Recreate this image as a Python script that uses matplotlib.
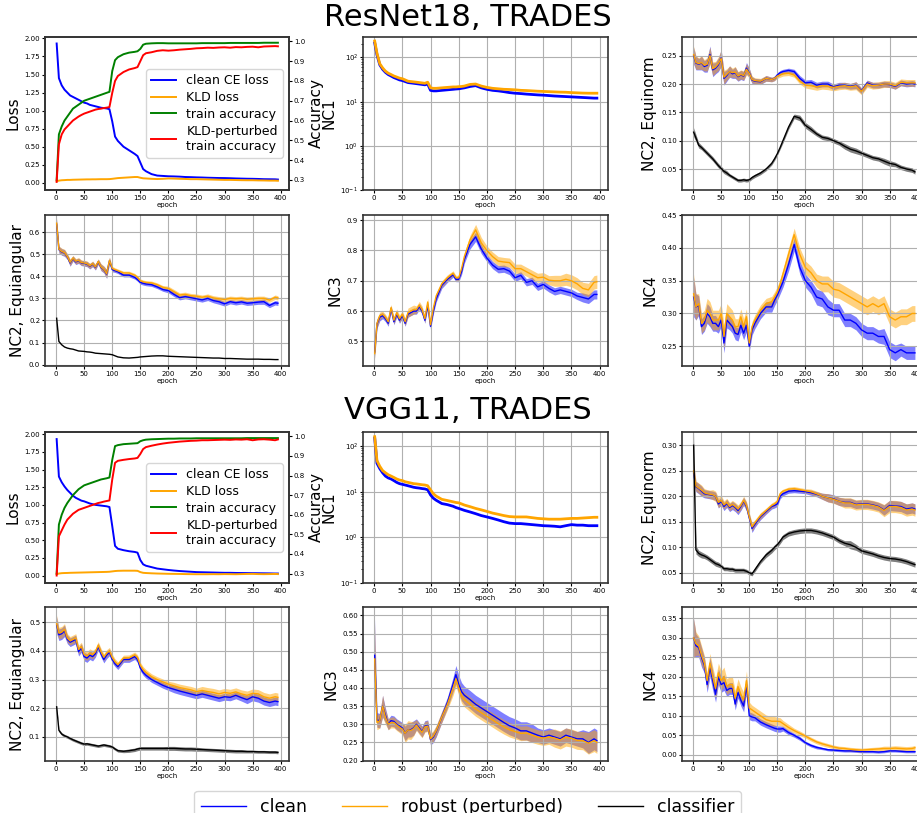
import numpy as np
import matplotlib
matplotlib.use('Agg')
import matplotlib.pyplot as plt
from matplotlib.lines import Line2D
from matplotlib.ticker import MultipleLocator

# epochs at which the curves were logged
epochs = [1, 5, 10, 15, 20, 25, 30, 35, 40, 45, 50, 55, 60, 65, 70, 75, 80, 85, 90, 95, 100, 105,
          110, 120, 130, 140, 145, 150, 155,
          160, 170, 180, 190, 200, 210, 220, 230, 240, 250, 260, 270, 280, 290, 300, 310, 320,
          330, 340, 350, 360, 370, 380, 390, 395]

# ---------------- ResNet18, TRADES ----------------
resnet_loss_clean = [1.93, 1.45, 1.35, 1.29, 1.25, 1.21, 1.19, 1.17, 1.15, 1.13, 1.11, 1.10, 1.08, 1.07, 1.06, 1.05, 1.04, 1.035, 1.03, 1.02, 0.85, 0.64,
                     0.58, 0.50, 0.45, 0.40, 0.37, 0.28, 0.19,
                     0.16, 0.12, 0.10, 0.095, 0.09, 0.088, 0.085, 0.08, 0.078, 0.075, 0.073, 0.07, 0.068, 0.066, 0.065, 0.063, 0.06, 0.058, 0.056, 0.055, 0.053, 0.05, 0.049, 0.048, 0.045]
resnet_loss_kld = [0.02, 0.03, 0.035, 0.037, 0.04, 0.04, 0.042, 0.043, 0.044, 0.045, 0.046, 0.047, 0.047, 0.048, 0.048, 0.049, 0.05, 0.05, 0.05, 0.051, 0.055, 0.06,
                   0.065, 0.07, 0.075, 0.08, 0.08, 0.07, 0.062,
                   0.06, 0.055, 0.052, 0.055, 0.06, 0.058, 0.055, 0.053, 0.05, 0.05, 0.048, 0.046, 0.044, 0.042, 0.04, 0.04, 0.038, 0.036, 0.035, 0.035, 0.033, 0.032, 0.03, 0.03, 0.028]
resnet_acc_train = [0.30, 0.53, 0.57, 0.60, 0.62, 0.64, 0.66, 0.67, 0.68, 0.69, 0.70, 0.705, 0.71, 0.715, 0.72, 0.725, 0.73, 0.735, 0.74, 0.745, 0.85, 0.905,
                    0.92, 0.935, 0.943, 0.947, 0.95, 0.962, 0.983,
                    0.988, 0.99, 0.991, 0.991, 0.99, 0.99, 0.99, 0.99, 0.99, 0.99, 0.991, 0.991, 0.991, 0.991, 0.991, 0.992, 0.992, 0.992, 0.992, 0.992, 0.992, 0.993, 0.993, 0.993, 0.993]
resnet_acc_pert = [0.29, 0.48, 0.53, 0.555, 0.57, 0.585, 0.60, 0.61, 0.62, 0.628, 0.635, 0.64, 0.645, 0.65, 0.655, 0.658, 0.66, 0.663, 0.665, 0.668, 0.74, 0.80,
                   0.825, 0.845, 0.858, 0.865, 0.87, 0.90, 0.93,
                   0.94, 0.945, 0.952, 0.955, 0.953, 0.955, 0.958, 0.96, 0.962, 0.965, 0.966, 0.968, 0.967, 0.969, 0.97, 0.968, 0.971, 0.97, 0.972, 0.973, 0.97, 0.974, 0.975, 0.976, 0.975]
resnet_nc1_clean = [213, 115, 68, 54, 46, 41, 38, 35, 33, 31, 30, 28.5, 27, 26.5, 26, 25.5, 25, 24.5, 24, 25, 18, 17.5,
                    17.5, 18, 18.5, 19, 19.3, 19.5, 20,
                    20.5, 22, 23, 20.5, 19, 18, 17.5, 16.8, 16, 15.5, 15.2, 14.8, 14.5, 14.2, 14, 13.7, 13.4, 13.2, 13, 12.8, 12.6, 12.4, 12.2, 12, 12]
resnet_nc1_rob = [235, 125, 72, 58, 49, 44, 41, 38, 36, 34, 33, 31, 29, 28.5, 28, 27.5, 27, 26.5, 26, 27.5, 20.5, 20,
                  20, 20.5, 21, 21.5, 21.5, 21.8, 22,
                  22.5, 24.5, 25, 22.5, 21, 20, 19.5, 19, 18.8, 18.5, 18, 17.8, 17.5, 17.2, 17, 16.8, 16.6, 16.4, 16.3, 16, 15.8, 15.6, 15.5, 15.5, 15.5]
resnet_en_clean = [0.25, 0.237, 0.235, 0.237, 0.231, 0.233, 0.252, 0.225, 0.228, 0.234, 0.246, 0.21, 0.215, 0.222, 0.218, 0.22, 0.213, 0.216, 0.214, 0.228, 0.22, 0.207,
                   0.205, 0.204, 0.21, 0.208, 0.21, 0.216, 0.22,
                   0.222, 0.224, 0.222, 0.21, 0.202, 0.203, 0.198, 0.2, 0.2, 0.195, 0.198, 0.198, 0.196, 0.198, 0.188, 0.202, 0.198, 0.198, 0.2, 0.199, 0.196, 0.202, 0.2, 0.201, 0.2]
resnet_en_rob = [0.252, 0.238, 0.236, 0.238, 0.233, 0.235, 0.25, 0.227, 0.23, 0.236, 0.245, 0.212, 0.217, 0.222, 0.22, 0.221, 0.214, 0.217, 0.215, 0.226, 0.219, 0.208,
                 0.206, 0.205, 0.21, 0.208, 0.21, 0.214, 0.216,
                 0.218, 0.219, 0.216, 0.205, 0.198, 0.197, 0.195, 0.197, 0.196, 0.194, 0.196, 0.197, 0.195, 0.197, 0.187, 0.2, 0.197, 0.198, 0.2, 0.2, 0.197, 0.203, 0.202, 0.202, 0.202]
resnet_en_cls = [0.115, 0.105, 0.092, 0.088, 0.083, 0.078, 0.073, 0.068, 0.062, 0.056, 0.051, 0.046, 0.043, 0.039, 0.036, 0.033, 0.03, 0.03, 0.031, 0.03, 0.031, 0.035,
                 0.038, 0.043, 0.05, 0.06, 0.068, 0.077, 0.088,
                 0.1, 0.124, 0.143, 0.14, 0.127, 0.12, 0.112, 0.106, 0.104, 0.1, 0.096, 0.09, 0.085, 0.082, 0.078, 0.074, 0.07, 0.068, 0.064, 0.06, 0.058, 0.053, 0.05, 0.048, 0.045]
resnet_ea_clean = [0.635, 0.52, 0.51, 0.505, 0.488, 0.46, 0.48, 0.465, 0.47, 0.46, 0.458, 0.455, 0.445, 0.455, 0.44, 0.465, 0.44, 0.43, 0.41, 0.47, 0.43, 0.425,
                   0.42, 0.405, 0.405, 0.395, 0.385, 0.372, 0.368,
                   0.365, 0.362, 0.352, 0.34, 0.335, 0.318, 0.303, 0.308, 0.303, 0.298, 0.293, 0.3, 0.29, 0.285, 0.275, 0.285, 0.28, 0.284, 0.278, 0.28, 0.283, 0.285, 0.268, 0.28, 0.278]
resnet_ea_rob = [0.64, 0.522, 0.512, 0.507, 0.49, 0.463, 0.482, 0.468, 0.472, 0.462, 0.46, 0.457, 0.447, 0.457, 0.442, 0.467, 0.442, 0.432, 0.412, 0.472, 0.435, 0.43,
                 0.425, 0.415, 0.415, 0.405, 0.395, 0.38, 0.375,
                 0.372, 0.37, 0.362, 0.35, 0.345, 0.33, 0.315, 0.318, 0.312, 0.31, 0.305, 0.31, 0.302, 0.298, 0.295, 0.3, 0.298, 0.3, 0.296, 0.298, 0.3, 0.3, 0.292, 0.305, 0.302]
resnet_ea_cls = [0.21, 0.105, 0.09, 0.08, 0.075, 0.072, 0.07, 0.066, 0.062, 0.061, 0.06, 0.058, 0.057, 0.055, 0.052, 0.051, 0.05, 0.049, 0.048, 0.047, 0.045, 0.04,
                 0.035, 0.031, 0.03, 0.032, 0.033, 0.035, 0.036,
                 0.037, 0.039, 0.04, 0.04, 0.038, 0.037, 0.036, 0.035, 0.034, 0.033, 0.032, 0.031, 0.03, 0.03, 0.028, 0.028, 0.027, 0.026, 0.025, 0.025, 0.025, 0.024, 0.024, 0.023, 0.023]
resnet_nc3_clean = [0.465, 0.558, 0.58, 0.585, 0.575, 0.56, 0.608, 0.565, 0.59, 0.57, 0.585, 0.56, 0.59, 0.595, 0.6, 0.6, 0.615, 0.6, 0.57, 0.62, 0.55, 0.6,
                    0.64, 0.685, 0.705, 0.72, 0.705, 0.705, 0.73,
                    0.77, 0.82, 0.845, 0.805, 0.775, 0.752, 0.738, 0.74, 0.732, 0.71, 0.718, 0.695, 0.7, 0.68, 0.688, 0.675, 0.665, 0.67, 0.665, 0.66, 0.65, 0.645, 0.64, 0.655, 0.655]
resnet_nc3_rob = [0.46, 0.56, 0.585, 0.59, 0.58, 0.565, 0.612, 0.57, 0.595, 0.575, 0.59, 0.565, 0.595, 0.6, 0.605, 0.605, 0.62, 0.605, 0.575, 0.63, 0.555, 0.61,
                  0.65, 0.69, 0.71, 0.725, 0.71, 0.71, 0.74,
                  0.78, 0.835, 0.868, 0.825, 0.8, 0.78, 0.765, 0.762, 0.76, 0.74, 0.74, 0.73, 0.72, 0.71, 0.712, 0.702, 0.7, 0.7, 0.705, 0.7, 0.69, 0.675, 0.67, 0.695, 0.697]
resnet_nc4_clean = [0.325, 0.31, 0.312, 0.28, 0.285, 0.3, 0.295, 0.285, 0.285, 0.28, 0.29, 0.255, 0.29, 0.285, 0.28, 0.27, 0.268, 0.282, 0.27, 0.282, 0.25, 0.275,
                    0.285, 0.3, 0.31, 0.31, 0.32, 0.328, 0.338,
                    0.348, 0.375, 0.405, 0.37, 0.35, 0.34, 0.325, 0.322, 0.31, 0.305, 0.305, 0.29, 0.29, 0.285, 0.275, 0.27, 0.27, 0.265, 0.265, 0.245, 0.24, 0.245, 0.24, 0.24, 0.24]
resnet_nc4_rob = [0.33, 0.31, 0.315, 0.285, 0.29, 0.305, 0.3, 0.29, 0.29, 0.29, 0.3, 0.265, 0.3, 0.295, 0.29, 0.28, 0.28, 0.295, 0.28, 0.295, 0.255, 0.28,
                  0.29, 0.305, 0.315, 0.318, 0.325, 0.333, 0.345,
                  0.36, 0.39, 0.42, 0.39, 0.37, 0.362, 0.35, 0.345, 0.345, 0.337, 0.335, 0.33, 0.325, 0.32, 0.315, 0.31, 0.315, 0.31, 0.315, 0.295, 0.29, 0.295, 0.295, 0.3, 0.3]

# band half-widths (x 1e-3)
resnet_en_clean_sd = [15, 12, 10, 12, 10, 12, 15, 12, 10, 12, 15, 12, 10, 10, 8, 10, 8, 8, 8, 10, 8, 6,
                      5, 5, 5, 4, 4, 4, 4,
                      4, 4, 4, 5, 5, 5, 5, 5, 5, 5, 5, 5, 5, 6, 5, 5, 5, 5, 5, 5, 5, 5, 5, 5, 5]
resnet_en_rob_sd = [15, 12, 10, 12, 10, 12, 15, 12, 10, 12, 15, 12, 10, 10, 8, 10, 8, 8, 8, 10, 8, 6,
                    5, 5, 5, 4, 4, 4, 4,
                    4, 4, 4, 5, 5, 6, 6, 6, 6, 6, 6, 6, 6, 7, 6, 6, 6, 6, 6, 6, 6, 6, 6, 6, 6]
resnet_en_cls_sd = [8, 6, 5, 4, 4, 4, 4, 4, 4, 4, 4, 4, 4, 3, 3, 3, 3, 3, 3, 3, 3, 3,
                    3, 3, 3, 3, 3, 3, 3,
                    4, 4, 4, 5, 5, 5, 4, 4, 4, 4, 4, 5, 5, 5, 4, 4, 4, 4, 5, 5, 4, 4, 4, 4, 4]
resnet_ea_clean_sd = [25, 15, 15, 15, 12, 15, 12, 12, 12, 12, 12, 12, 12, 12, 12, 12, 15, 15, 20, 15, 10, 8,
                      8, 8, 8, 8, 8, 8, 8,
                      8, 8, 8, 8, 10, 10, 10, 10, 10, 10, 10, 10, 10, 12, 10, 10, 10, 10, 10, 10, 10, 12, 10, 10, 10]
resnet_ea_rob_sd = [25, 15, 15, 15, 12, 15, 12, 12, 12, 12, 12, 12, 12, 12, 12, 12, 15, 15, 20, 15, 10, 8,
                    8, 8, 8, 8, 8, 8, 8,
                    8, 8, 8, 8, 10, 10, 10, 10, 10, 10, 10, 10, 10, 10, 10, 10, 10, 10, 10, 10, 10, 10, 10, 10, 10]
resnet_nc3_clean_sd = [20, 15, 12, 10, 10, 10, 10, 10, 10, 10, 10, 10, 10, 10, 10, 10, 10, 10, 10, 10, 10, 10,
                       10, 10, 10, 8, 8, 8, 10,
                       12, 15, 15, 15, 12, 12, 12, 12, 12, 12, 12, 12, 12, 12, 12, 12, 12, 12, 12, 12, 12, 15, 15, 15, 15]
resnet_nc3_rob_sd = [20, 15, 12, 10, 10, 10, 10, 12, 12, 12, 12, 12, 15, 15, 15, 12, 12, 12, 12, 12, 10, 10,
                     10, 10, 10, 8, 8, 8, 10,
                     12, 15, 18, 18, 15, 15, 15, 15, 15, 15, 15, 15, 15, 15, 15, 15, 18, 18, 20, 20, 20, 20, 22, 22, 22]
resnet_nc4_clean_sd = [30, 20, 15, 12, 12, 15, 15, 12, 12, 10, 10, 15, 12, 10, 10, 10, 10, 10, 10, 10, 8, 8,
                       8, 8, 8, 8, 8, 8, 8,
                       8, 10, 10, 10, 10, 10, 12, 12, 12, 10, 10, 10, 10, 10, 10, 10, 10, 10, 12, 12, 12, 10, 10, 10, 10]
resnet_nc4_rob_sd = [30, 20, 15, 15, 15, 18, 18, 15, 15, 15, 15, 18, 15, 15, 15, 12, 12, 12, 12, 12, 8, 8,
                     8, 8, 8, 8, 8, 8, 8,
                     8, 10, 10, 10, 10, 10, 10, 12, 12, 12, 12, 12, 12, 12, 12, 12, 12, 12, 12, 12, 12, 12, 12, 12, 12]

# ---------------- VGG11, TRADES ----------------
vgg_loss_clean = [1.93, 1.40, 1.32, 1.26, 1.21, 1.17, 1.13, 1.10, 1.08, 1.06, 1.05, 1.035, 1.02, 1.01, 1.0, 0.995, 0.99, 0.985, 0.98, 0.97, 0.70, 0.42,
                  0.38, 0.36, 0.345, 0.335, 0.325, 0.22, 0.16,
                  0.14, 0.12, 0.10, 0.09, 0.08, 0.072, 0.065, 0.06, 0.055, 0.05, 0.048, 0.046, 0.044, 0.042, 0.04, 0.04, 0.038, 0.037, 0.036, 0.035, 0.034, 0.033, 0.032, 0.03, 0.03]
vgg_loss_kld = [0.02, 0.03, 0.035, 0.037, 0.038, 0.04, 0.041, 0.042, 0.043, 0.044, 0.045, 0.046, 0.047, 0.048, 0.049, 0.05, 0.051, 0.052, 0.053, 0.055, 0.06, 0.065,
                0.068, 0.07, 0.07, 0.07, 0.068, 0.05, 0.04,
                0.037, 0.033, 0.03, 0.028, 0.026, 0.025, 0.024, 0.022, 0.021, 0.02, 0.02, 0.02, 0.021, 0.02, 0.022, 0.021, 0.02, 0.022, 0.024, 0.025, 0.022, 0.021, 0.022, 0.024, 0.022]
vgg_acc_train = [0.30, 0.55, 0.60, 0.635, 0.66, 0.68, 0.70, 0.715, 0.73, 0.74, 0.75, 0.755, 0.76, 0.765, 0.77, 0.775, 0.78, 0.783, 0.786, 0.79, 0.88, 0.95,
                 0.955, 0.96, 0.962, 0.964, 0.965, 0.975, 0.98,
                 0.983, 0.985, 0.986, 0.987, 0.988, 0.988, 0.989, 0.989, 0.989, 0.99, 0.99, 0.99, 0.99, 0.99, 0.99, 0.99, 0.99, 0.99, 0.991, 0.991, 0.991, 0.991, 0.991, 0.991, 0.991]
vgg_acc_pert = [0.29, 0.49, 0.52, 0.55, 0.575, 0.59, 0.605, 0.615, 0.625, 0.63, 0.635, 0.64, 0.645, 0.65, 0.655, 0.66, 0.663, 0.667, 0.67, 0.673, 0.78, 0.865,
                0.875, 0.88, 0.884, 0.887, 0.89, 0.91, 0.935,
                0.945, 0.952, 0.958, 0.963, 0.967, 0.97, 0.973, 0.975, 0.977, 0.978, 0.98, 0.98, 0.981, 0.982, 0.983, 0.982, 0.984, 0.983, 0.985, 0.98, 0.984, 0.985, 0.983, 0.98, 0.984]
vgg_nc1_clean = [150, 42, 32, 26, 22, 20, 19, 17.5, 16, 15, 14.5, 14, 13.5, 13, 12.5, 12.2, 12, 11.7, 11.5, 11, 8.5, 7.2,
                 6.5, 5.5, 5.2, 4.8, 4.5, 4.3, 4.1,
                 3.9, 3.6, 3.3, 3.0, 2.8, 2.6, 2.4, 2.2, 2.05, 2.0, 2.0, 1.95, 1.9, 1.85, 1.8, 1.78, 1.75, 1.7, 1.8, 1.9, 1.85, 1.85, 1.8, 1.8, 1.8]
vgg_nc1_rob = [160, 48, 36, 29, 26, 23.5, 22, 20.5, 19, 18, 17.5, 16.5, 16, 15.5, 15, 14.8, 14.5, 14.2, 14, 13.5, 11, 9,
               8, 6.8, 6.4, 6.0, 5.8, 5.7, 5.4,
               5.1, 4.7, 4.3, 4.0, 3.7, 3.4, 3.2, 3.0, 2.85, 2.8, 2.8, 2.8, 2.7, 2.6, 2.55, 2.5, 2.5, 2.5, 2.55, 2.6, 2.6, 2.65, 2.7, 2.75, 2.75]
vgg_en_clean = [0.245, 0.219, 0.215, 0.21, 0.205, 0.204, 0.203, 0.202, 0.2, 0.185, 0.19, 0.18, 0.186, 0.178, 0.182, 0.178, 0.172, 0.18, 0.19, 0.18, 0.158, 0.137,
                0.145, 0.16, 0.17, 0.18, 0.182, 0.185, 0.2,
                0.205, 0.21, 0.211, 0.21, 0.209, 0.207, 0.204, 0.2, 0.197, 0.195, 0.19, 0.188, 0.188, 0.184, 0.185, 0.185, 0.183, 0.18, 0.173, 0.182, 0.181, 0.18, 0.175, 0.177, 0.175]
vgg_en_rob = [0.25, 0.22, 0.216, 0.212, 0.207, 0.205, 0.204, 0.203, 0.2, 0.188, 0.192, 0.183, 0.188, 0.18, 0.184, 0.18, 0.175, 0.182, 0.192, 0.182, 0.16, 0.14,
              0.148, 0.162, 0.172, 0.182, 0.185, 0.19, 0.205,
              0.21, 0.214, 0.215, 0.213, 0.211, 0.209, 0.205, 0.2, 0.197, 0.194, 0.19, 0.187, 0.187, 0.183, 0.184, 0.184, 0.182, 0.179, 0.172, 0.18, 0.18, 0.178, 0.173, 0.175, 0.173]
vgg_en_cls = [0.30, 0.095, 0.088, 0.085, 0.083, 0.08, 0.076, 0.072, 0.068, 0.066, 0.063, 0.058, 0.058, 0.057, 0.057, 0.055, 0.055, 0.055, 0.055, 0.053, 0.05, 0.048,
              0.056, 0.072, 0.085, 0.094, 0.1, 0.105, 0.112,
              0.12, 0.127, 0.13, 0.132, 0.133, 0.133, 0.131, 0.128, 0.124, 0.12, 0.113, 0.108, 0.105, 0.1, 0.093, 0.09, 0.087, 0.083, 0.08, 0.078, 0.077, 0.075, 0.072, 0.068, 0.066]
vgg_ea_clean = [0.49, 0.456, 0.46, 0.47, 0.44, 0.43, 0.435, 0.44, 0.397, 0.41, 0.38, 0.375, 0.385, 0.38, 0.39, 0.415, 0.39, 0.37, 0.385, 0.395, 0.37, 0.355,
                0.345, 0.37, 0.37, 0.38, 0.37, 0.34, 0.325,
                0.315, 0.3, 0.29, 0.28, 0.272, 0.266, 0.26, 0.255, 0.25, 0.245, 0.25, 0.245, 0.24, 0.235, 0.24, 0.238, 0.245, 0.237, 0.23, 0.24, 0.235, 0.225, 0.22, 0.225, 0.223]
vgg_ea_rob = [0.495, 0.462, 0.465, 0.475, 0.445, 0.435, 0.44, 0.445, 0.405, 0.415, 0.387, 0.382, 0.392, 0.387, 0.397, 0.42, 0.397, 0.378, 0.392, 0.4, 0.377, 0.362,
              0.352, 0.375, 0.376, 0.386, 0.377, 0.35, 0.335,
              0.325, 0.31, 0.3, 0.292, 0.284, 0.278, 0.272, 0.268, 0.264, 0.258, 0.262, 0.258, 0.255, 0.25, 0.255, 0.252, 0.257, 0.25, 0.245, 0.252, 0.25, 0.24, 0.235, 0.24, 0.238]
vgg_ea_cls = [0.205, 0.123, 0.11, 0.104, 0.1, 0.095, 0.09, 0.086, 0.082, 0.078, 0.075, 0.076, 0.074, 0.072, 0.07, 0.068, 0.07, 0.072, 0.07, 0.068, 0.065, 0.058,
              0.052, 0.05, 0.052, 0.055, 0.058, 0.06, 0.06,
              0.06, 0.06, 0.06, 0.06, 0.06, 0.06, 0.059, 0.058, 0.058, 0.057, 0.056, 0.055, 0.054, 0.053, 0.052, 0.051, 0.05, 0.05, 0.049, 0.049, 0.048, 0.048, 0.047, 0.047, 0.046]
vgg_nc3_clean = [0.49, 0.312, 0.31, 0.35, 0.325, 0.3, 0.31, 0.308, 0.3, 0.295, 0.29, 0.275, 0.285, 0.285, 0.29, 0.3, 0.29, 0.28, 0.295, 0.297, 0.258, 0.265,
                 0.28, 0.32, 0.36, 0.41, 0.437, 0.41, 0.39,
                 0.38, 0.368, 0.355, 0.345, 0.335, 0.325, 0.315, 0.305, 0.296, 0.29, 0.282, 0.282, 0.276, 0.27, 0.265, 0.27, 0.265, 0.26, 0.27, 0.265, 0.26, 0.26, 0.25, 0.26, 0.255]
vgg_nc3_rob = [0.48, 0.305, 0.31, 0.35, 0.32, 0.3, 0.305, 0.305, 0.298, 0.292, 0.287, 0.275, 0.285, 0.283, 0.288, 0.298, 0.287, 0.278, 0.293, 0.295, 0.26, 0.268,
               0.282, 0.32, 0.355, 0.4, 0.425, 0.4, 0.378,
               0.368, 0.355, 0.342, 0.332, 0.322, 0.312, 0.302, 0.293, 0.285, 0.28, 0.275, 0.276, 0.27, 0.265, 0.262, 0.265, 0.262, 0.257, 0.265, 0.262, 0.256, 0.255, 0.248, 0.255, 0.25]
vgg_nc4_clean = [0.3, 0.28, 0.275, 0.25, 0.23, 0.18, 0.225, 0.19, 0.155, 0.2, 0.18, 0.185, 0.165, 0.17, 0.17, 0.13, 0.16, 0.14, 0.125, 0.18, 0.1, 0.097,
                 0.095, 0.084, 0.077, 0.071, 0.068, 0.066, 0.066,
                 0.067, 0.057, 0.05, 0.042, 0.031, 0.024, 0.019, 0.016, 0.013, 0.012, 0.011, 0.01, 0.01, 0.009, 0.008, 0.008, 0.008, 0.007, 0.008, 0.01, 0.01, 0.009, 0.008, 0.008, 0.008]
vgg_nc4_rob = [0.3, 0.285, 0.28, 0.255, 0.235, 0.19, 0.235, 0.2, 0.17, 0.21, 0.19, 0.2, 0.175, 0.18, 0.18, 0.145, 0.175, 0.155, 0.14, 0.19, 0.12, 0.115,
               0.11, 0.1, 0.09, 0.086, 0.086, 0.086, 0.085,
               0.08, 0.07, 0.062, 0.055, 0.048, 0.04, 0.033, 0.028, 0.024, 0.02, 0.017, 0.016, 0.014, 0.013, 0.012, 0.013, 0.014, 0.015, 0.016, 0.016, 0.017, 0.016, 0.015, 0.016, 0.018]

vgg_en_clean_sd = [20, 10, 10, 10, 8, 8, 8, 8, 8, 8, 8, 8, 8, 8, 8, 8, 8, 8, 8, 8, 8, 8,
                   6, 6, 5, 5, 5, 5, 5,
                   4, 4, 4, 4, 4, 5, 5, 6, 8, 8, 8, 8, 8, 8, 8, 8, 8, 8, 10, 10, 10, 10, 10, 10, 10]
vgg_en_rob_sd = [20, 10, 10, 10, 8, 8, 8, 10, 10, 10, 10, 8, 8, 8, 8, 8, 8, 8, 8, 8, 8, 8,
                 6, 6, 5, 5, 5, 5, 5,
                 4, 4, 4, 4, 4, 5, 5, 6, 8, 8, 8, 10, 10, 10, 10, 10, 10, 10, 12, 12, 12, 12, 12, 12, 12]
vgg_en_cls_sd = [30, 8, 6, 6, 5, 5, 5, 5, 5, 5, 4, 4, 4, 4, 4, 4, 4, 4, 4, 4, 4, 4,
                 4, 4, 5, 5, 5, 5, 5,
                 5, 5, 5, 5, 5, 5, 5, 5, 5, 5, 5, 5, 8, 6, 5, 5, 5, 5, 5, 5, 5, 5, 5, 5, 5]
vgg_ea_clean_sd = [30, 20, 20, 20, 15, 15, 15, 15, 15, 15, 15, 15, 15, 15, 12, 12, 12, 12, 12, 12, 12, 10,
                   10, 10, 10, 10, 10, 10, 10,
                   10, 10, 10, 10, 10, 12, 12, 12, 12, 12, 12, 12, 12, 12, 12, 12, 12, 12, 14, 14, 14, 14, 14, 14, 14]
vgg_ea_rob_sd = [30, 20, 20, 20, 15, 15, 15, 15, 15, 15, 15, 15, 15, 15, 12, 12, 12, 12, 12, 12, 12, 10,
                 10, 10, 10, 10, 10, 10, 10,
                 10, 10, 10, 10, 10, 12, 12, 12, 12, 12, 14, 14, 14, 14, 14, 14, 14, 14, 15, 15, 15, 15, 15, 15, 15]
vgg_ea_cls_sd = [5, 5, 5, 5, 5, 5, 5, 5, 5, 5, 5, 5, 5, 5, 5, 5, 5, 5, 5, 5, 5, 5,
                 5, 5, 6, 6, 6, 6, 6,
                 6, 6, 6, 6, 7, 7, 7, 7, 7, 7, 6, 6, 6, 6, 6, 6, 6, 6, 5, 5, 5, 5, 5, 5, 5]
vgg_nc3_clean_sd = [100, 20, 20, 30, 20, 15, 15, 15, 15, 15, 15, 20, 20, 20, 20, 15, 15, 15, 15, 15, 15, 15,
                    15, 15, 15, 20, 25, 25, 25,
                    25, 25, 25, 25, 25, 25, 25, 25, 25, 25, 25, 25, 25, 20, 20, 20, 20, 20, 20, 20, 20, 25, 30, 30, 30]
vgg_nc3_rob_sd = [100, 20, 20, 30, 20, 15, 15, 15, 15, 15, 15, 25, 25, 25, 20, 15, 15, 15, 15, 15, 15, 15,
                  15, 15, 15, 20, 20, 20, 20,
                  20, 20, 20, 20, 20, 20, 20, 20, 20, 20, 20, 20, 20, 20, 20, 20, 25, 25, 25, 25, 25, 25, 30, 30, 30]
vgg_nc4_clean_sd = [50, 30, 25, 25, 20, 20, 25, 25, 20, 20, 20, 20, 15, 15, 15, 15, 15, 15, 15, 20, 10, 10,
                    8, 8, 8, 8, 8, 8, 8,
                    6, 6, 5, 5, 4, 4, 4, 3, 3, 3, 3, 3, 3, 3, 3, 3, 3, 3, 3, 3, 3, 3, 3, 3, 3]
vgg_nc4_rob_sd = [50, 30, 25, 25, 20, 20, 25, 25, 25, 25, 25, 25, 20, 20, 20, 20, 20, 20, 20, 25, 15, 12,
                  12, 12, 12, 12, 12, 10, 10,
                  8, 8, 6, 6, 5, 5, 5, 5, 5, 5, 5, 5, 5, 5, 5, 5, 5, 5, 6, 6, 6, 6, 6, 6, 6]

# ---------------- layout ----------------
W, H = 917, 813
plt.rcParams['xtick.labelsize'] = 5
plt.rcParams['ytick.labelsize'] = 5
plt.rcParams['xtick.major.size'] = 2
plt.rcParams['ytick.major.size'] = 2
plt.rcParams['ytick.minor.size'] = 1.2
plt.rcParams['xtick.major.pad'] = 1.5
plt.rcParams['ytick.major.pad'] = 1.5
fig = plt.figure(figsize=(W / 100, H / 100), dpi=100)


def box(col, row):
    l, r = [(45, 289), (363, 608), (682, 926)][col]
    t, b = [(37, 190), (215, 366), (432, 583), (607, 761)][row]
    return [l / W, 1 - b / H, (r - l) / W, (b - t) / H]


def style(ax, grid=True):
    ax.set_xlim(-19.75, 414.75)
    ax.set_xticks(range(0, 401, 50))
    ax.set_xlabel('epoch', fontsize=5, labelpad=1)
    if grid:
        ax.grid(True, color='#b0b0b0', lw=0.8)
    for s in ax.spines.values():
        s.set_linewidth(1.2)
        s.set_color('#333333')


def curve(ax, mean, sd, color, lw=1.0):
    m = np.array(mean)
    if sd is not None:
        b = np.array(sd) / 1000
        ax.fill_between(epochs, m - b, m + b, color=color, alpha=0.5, linewidth=0)
    ax.plot(epochs, m, color=color, lw=lw)


blocks = [
    dict(title='ResNet18, TRADES', ty=17, r0=0,
         loss=(resnet_loss_clean, resnet_loss_kld, resnet_acc_train, resnet_acc_pert),
         nc1=(resnet_nc1_clean, resnet_nc1_rob),
         en=[(resnet_en_clean, resnet_en_clean_sd, 'blue'), (resnet_en_rob, resnet_en_rob_sd, 'orange'),
             (resnet_en_cls, resnet_en_cls_sd, 'black')],
         ea=[(resnet_ea_clean, resnet_ea_clean_sd, 'blue'), (resnet_ea_rob, resnet_ea_rob_sd, 'orange'),
             (resnet_ea_cls, None, 'black')],
         nc3=[(resnet_nc3_clean, resnet_nc3_clean_sd, 'blue'), (resnet_nc3_rob, resnet_nc3_rob_sd, 'orange')],
         nc4=[(resnet_nc4_clean, resnet_nc4_clean_sd, 'blue'), (resnet_nc4_rob, resnet_nc4_rob_sd, 'orange')],
         lims=dict(loss=(-0.1, 2.02), acc=(0.249, 1.022), nc1=(0.1, 290), en=(0.013, 0.283),
                   ea=(-0.006, 0.677), nc3=(0.419, 0.917), nc4=(0.22, 0.45)),
         steps=dict(en=0.05, ea=0.1, nc3=0.1, nc4=0.05)),
    dict(title='VGG11, TRADES', ty=410, r0=2,
         loss=(vgg_loss_clean, vgg_loss_kld, vgg_acc_train, vgg_acc_pert),
         nc1=(vgg_nc1_clean, vgg_nc1_rob),
         en=[(vgg_en_clean, vgg_en_clean_sd, 'blue'), (vgg_en_rob, vgg_en_rob_sd, 'orange'),
             (vgg_en_cls, vgg_en_cls_sd, 'black')],
         ea=[(vgg_ea_clean, vgg_ea_clean_sd, 'blue'), (vgg_ea_rob, vgg_ea_rob_sd, 'orange'),
             (vgg_ea_cls, vgg_ea_cls_sd, 'black')],
         nc3=[(vgg_nc3_clean, vgg_nc3_clean_sd, 'blue'), (vgg_nc3_rob, vgg_nc3_rob_sd, 'orange')],
         nc4=[(vgg_nc4_clean, vgg_nc4_clean_sd, 'blue'), (vgg_nc4_rob, vgg_nc4_rob_sd, 'orange')],
         lims=dict(loss=(-0.104, 2.03), acc=(0.252, 1.022), nc1=(0.1, 203), en=(0.03, 0.326),
                   ea=(0.016, 0.553), nc3=(0.199, 0.623), nc4=(-0.016, 0.379)),
         steps=dict(en=0.05, ea=0.1, nc3=0.05, nc4=0.05)),
]

for bl in blocks:
    r0 = bl['r0']
    lims = bl['lims']
    fig.text(0.51, 1 - bl['ty'] / H, bl['title'], ha='center', va='center', fontsize=22)

    # loss / accuracy
    ax = fig.add_axes(box(0, r0))
    lc, lk, at, ap = bl['loss']
    h1, = ax.plot(epochs, lc, color='blue', lw=1.4, label='clean CE loss')
    h2, = ax.plot(epochs, lk, color='orange', lw=1.4, label='KLD loss')
    ax.set_ylim(*lims['loss'])
    ax.yaxis.set_major_locator(MultipleLocator(0.25))
    ax.yaxis.set_major_formatter(matplotlib.ticker.FormatStrFormatter('%.2f'))
    ax.set_ylabel('Loss', fontsize=11, labelpad=3)
    style(ax, grid=False)
    ax2 = ax.twinx()
    h3, = ax2.plot(epochs, at, color='green', lw=1.4, label='train accuracy')
    h4, = ax2.plot(epochs, ap, color='red', lw=1.4, label='KLD-perturbed\ntrain accuracy')
    ax2.set_ylim(*lims['acc'])
    ax2.yaxis.set_major_locator(MultipleLocator(0.1))
    ax2.set_ylabel('Accuracy', fontsize=11, labelpad=3)
    for s in ax2.spines.values():
        s.set_linewidth(1.2)
        s.set_color('#333333')
    ax2.legend(handles=[h1, h2, h3, h4], loc='center right', fontsize=9,
               handlelength=2.0, labelspacing=0.3, borderpad=0.4)

    # NC1 (log scale)
    ax = fig.add_axes(box(1, r0))
    ax.plot(epochs, bl['nc1'][0], color='blue', lw=2)
    ax.plot(epochs, bl['nc1'][1], color='orange', lw=2)
    ax.set_yscale('log')
    ax.set_ylim(*lims['nc1'])
    ax.set_ylabel('NC1', fontsize=11, labelpad=3)
    style(ax)

    panels = [('en', 2, r0, 'NC2, Equinorm'), ('ea', 0, r0 + 1, 'NC2, Equiangular'),
              ('nc3', 1, r0 + 1, 'NC3'), ('nc4', 2, r0 + 1, 'NC4')]
    for key, c, r, label in panels:
        ax = fig.add_axes(box(c, r))
        for mean, sd, color in bl[key]:
            curve(ax, mean, sd, color)
        ax.set_ylim(*lims[key])
        ax.yaxis.set_major_locator(MultipleLocator(bl['steps'][key]))
        ax.set_ylabel(label, fontsize=11, labelpad=3)
        style(ax)

handles = [Line2D([], [], color='blue', lw=1), Line2D([], [], color='orange', lw=1),
           Line2D([], [], color='black', lw=1)]
fig.legend(handles, ['clean', 'robust (perturbed)', 'classifier'], loc='upper center',
           bbox_to_anchor=(0.51, 1 - 782 / H), ncol=3, fontsize=12.5, handlelength=2.6,
           columnspacing=2.0)

fig.savefig('out.png', dpi=100)
